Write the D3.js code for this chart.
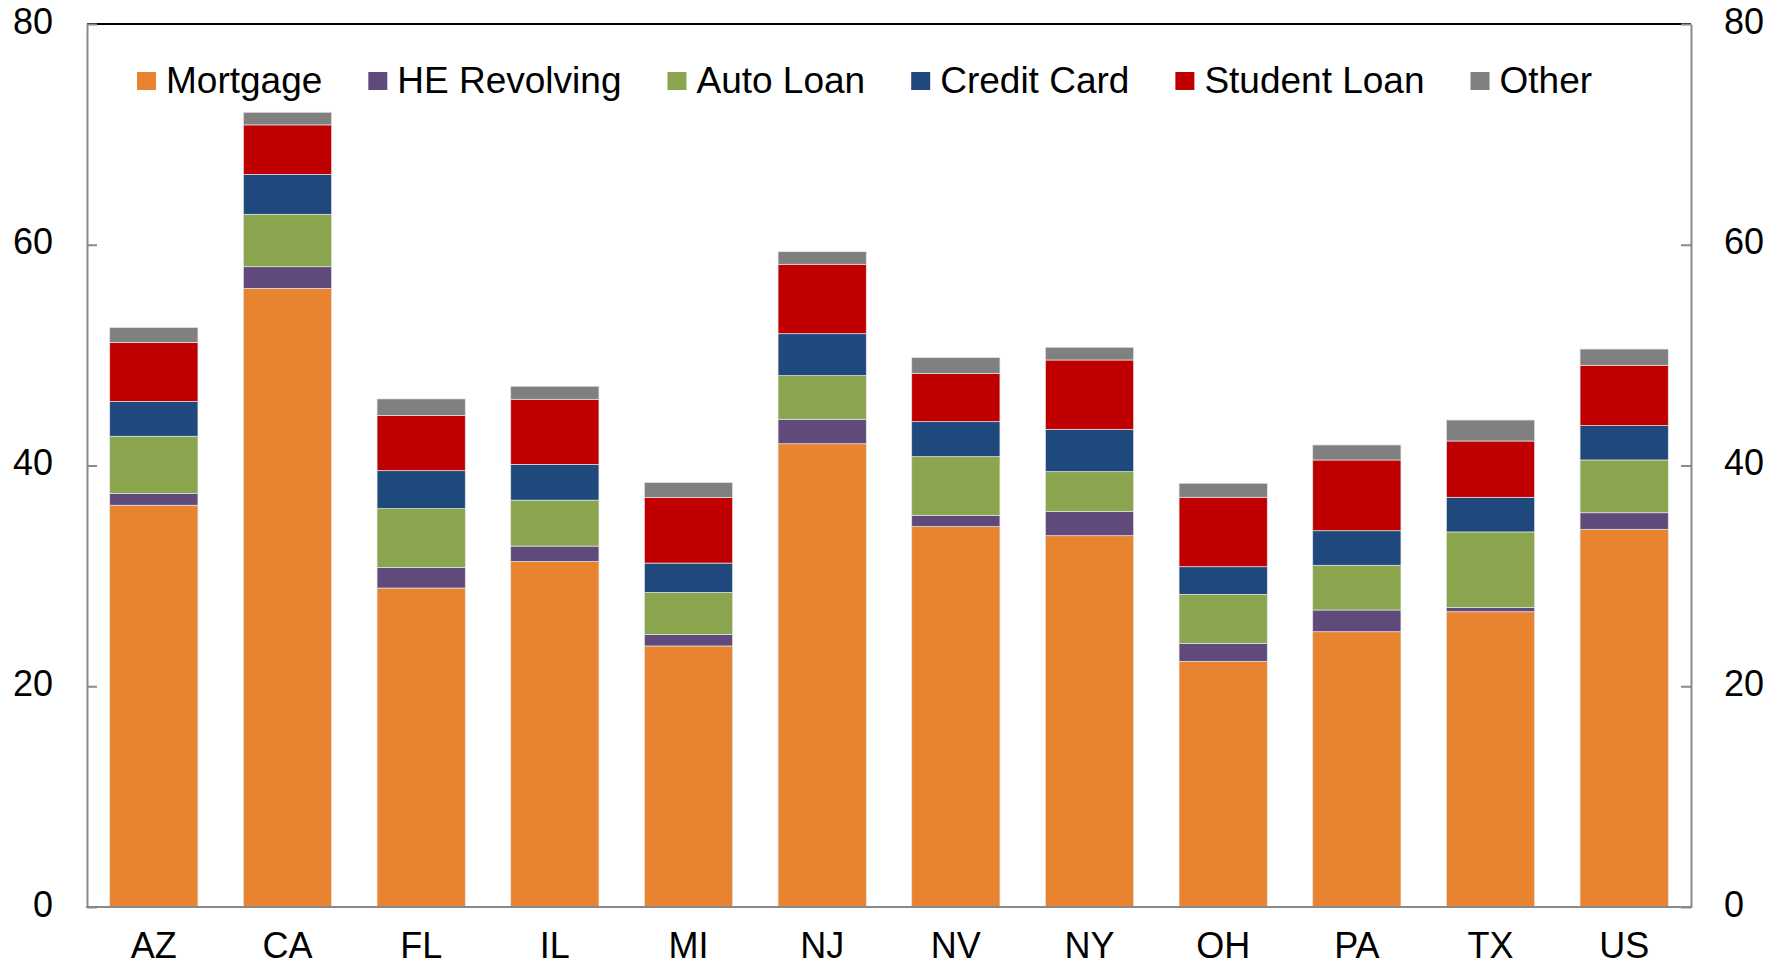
<!DOCTYPE html>
<html>
<head>
<meta charset="utf-8">
<script src="https://cdn.jsdelivr.net/npm/d3@7"></script>
<style>
  body { margin: 0; background: #fff; }
  text { font-family: "Liberation Sans", Arial, sans-serif; fill: #000; }
</style>
</head>
<body>
<div id="chart"></div>
<script>
var states = ["AZ", "CA", "FL", "IL", "MI", "NJ", "NV", "NY", "OH", "PA", "TX", "US"];
var seriesNames = ["Mortgage", "HE Revolving", "Auto Loan", "Credit Card", "Student Loan", "Other"];
var seriesColors = ["#E8832F", "#604A7B", "#8AA54E", "#1F497D", "#C00000", "#808080"];

var mortgage    = [36.4, 56.05, 28.9, 31.3, 23.65, 41.97, 34.46, 33.64, 22.26, 24.94, 26.75, 34.22];
var heRevolving = [1.06, 1.96, 1.87, 1.4, 1.05, 2.22, 1.03, 2.18, 1.63, 1.97, 0.4, 1.5];
var autoLoan    = [5.19, 4.75, 5.32, 4.16, 3.8, 3.95, 5.31, 3.62, 4.44, 4.05, 6.83, 4.78];
var creditCard  = [3.15, 3.61, 3.44, 3.24, 2.66, 3.8, 3.17, 3.84, 2.5, 3.13, 3.14, 3.11];
var studentLoan = [5.34, 4.49, 5.0, 5.9, 5.95, 6.29, 4.38, 6.28, 6.29, 6.41, 5.1, 5.47];
var other       = [1.36, 1.14, 1.5, 1.18, 1.35, 1.14, 1.42, 1.15, 1.27, 1.36, 1.9, 1.47];

var yTicks = [0, 20, 40, 60, 80];

(function() {
  var W = 1785, H = 966;
  var mLeft = 87, mRight = 1691, mTop = 24, mBottom = 907;

  var seriesValues = [mortgage, heRevolving, autoLoan, creditCard, studentLoan, other];
  var rows = states.map(function(s, i) {
    var r = { state: s };
    seriesNames.forEach(function(n, j) { r[n] = seriesValues[j][i]; });
    return r;
  });

  var svg = d3.select("#chart").append("svg")
    .attr("width", W)
    .attr("height", H);

  var x = d3.scaleBand().domain(states).range([mLeft, mRight]).padding(0);
  var y = d3.scaleLinear().domain([0, 80]).range([mBottom, mTop]);
  var color = d3.scaleOrdinal().domain(seriesNames).range(seriesColors);

  var barW = x.bandwidth() * 0.66;

  var stacked = d3.stack().keys(seriesNames)(rows);

  svg.append("g").selectAll("g")
    .data(stacked)
    .enter()
    .append("g")
    .attr("fill", function(d) { return color(d.key); })
    .selectAll("rect")
    .data(function(d) { return d; })
    .enter()
    .append("rect")
    .attr("x", function(d) { return x(d.data.state) + (x.bandwidth() - barW) / 2; })
    .attr("y", function(d) { return y(d[1]); })
    .attr("width", barW)
    .attr("height", function(d) { return y(d[0]) - y(d[1]); })
    .attr("stroke", "#e4e4e4")
    .attr("stroke-width", 0.7);

  // top line is black, the other sides grey
  svg.append("line")
    .attr("x1", mLeft).attr("x2", mRight)
    .attr("y1", mTop).attr("y2", mTop)
    .attr("stroke", "#000").attr("stroke-width", 2);

  var leftAxis = d3.axisRight(y).tickValues(yTicks).tickSize(10).tickSizeOuter(0).tickFormat("");
  var rightAxis = d3.axisLeft(y).tickValues(yTicks).tickSize(10).tickSizeOuter(0).tickFormat("");

  svg.append("g").attr("transform", "translate(" + mLeft + ",0)").call(leftAxis)
    .call(function(g) {
      g.selectAll("path, line").attr("stroke", "#898989").attr("stroke-width", 2);
    });
  svg.append("g").attr("transform", "translate(" + mRight + ",0)").call(rightAxis)
    .call(function(g) {
      g.selectAll("path, line").attr("stroke", "#898989").attr("stroke-width", 2);
    });

  var xAxis = d3.axisBottom(x).tickSize(0).tickPadding(0);
  svg.append("g").attr("transform", "translate(0," + mBottom + ")").call(xAxis)
    .call(function(g) {
      g.select(".domain").attr("stroke", "#898989").attr("stroke-width", 2)
        .attr("d", "M" + (mLeft - 1) + ",0H" + (mRight + 1));
      g.selectAll("text")
        .attr("y", 51).attr("dy", null)
        .attr("font-size", 36)
        .attr("font-family", "Liberation Sans, Arial, sans-serif")
        .attr("fill", "#000");
    });

  // tick labels on both sides
  svg.append("g").selectAll("text")
    .data(yTicks)
    .enter()
    .append("text")
    .attr("x", 53)
    .attr("y", function(d) { return y(d) + 9.5; })
    .attr("text-anchor", "end")
    .attr("font-size", 36)
    .text(function(d) { return d; });

  svg.append("g").selectAll("text")
    .data(yTicks)
    .enter()
    .append("text")
    .attr("x", 1724)
    .attr("y", function(d) { return y(d) + 9.5; })
    .attr("text-anchor", "start")
    .attr("font-size", 36)
    .text(function(d) { return d; });

  // legend
  var legend = svg.append("g");
  var lx = 137;
  seriesNames.forEach(function(n) {
    legend.append("rect")
      .attr("x", lx).attr("y", 72)
      .attr("width", 19).attr("height", 18)
      .attr("fill", color(n));
    var t = legend.append("text")
      .attr("x", lx + 29).attr("y", 93)
      .attr("font-size", 37)
      .text(n);
    lx += 29 + t.node().getComputedTextLength() + 46;
  });
})();
</script>
</body>
</html>
